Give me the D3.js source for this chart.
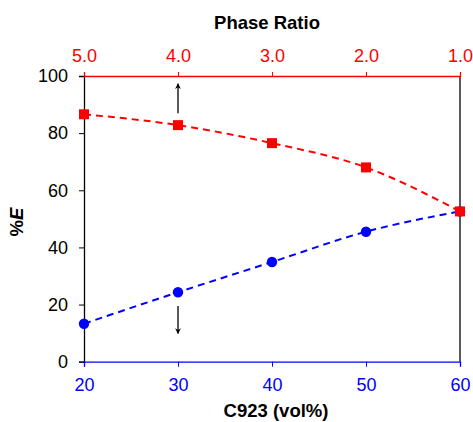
<!DOCTYPE html>
<html>
<head>
<meta charset="utf-8">
<script src="https://cdn.jsdelivr.net/npm/d3@7"></script>
<style>
  body { margin: 0; background: #fff; }
  svg text { font-family: "Liberation Sans", Arial, sans-serif; }
</style>
</head>
<body>
<div id="chart"></div>
<script>
const c923 = [20, 30, 40, 50, 60];
const redE = [86.6, 82.8, 76.5, 68.0, 52.6];
const blueE = [13.3, 24.3, 34.9, 45.5, 52.6];
const bottomTicks = [20, 30, 40, 50, 60];
const phaseTicks = [5.0, 4.0, 3.0, 2.0, 1.0];
const yTicks = [0, 20, 40, 60, 80, 100];

const width = 473, height = 422;
const margin = { top: 76, right: 13, bottom: 60, left: 84 };

const svg = d3.select("#chart").append("svg")
    .attr("width", width)
    .attr("height", height);

const x = d3.scaleLinear().domain([20, 60]).range([margin.left, width - margin.right]);
const xTop = d3.scaleLinear().domain([5, 1]).range([margin.left, width - margin.right]);
const y = d3.scaleLinear().domain([0, 100]).range([height - margin.bottom - 0.3, margin.top]);

// right frame line
svg.append("line")
    .attr("x1", x(60)).attr("x2", x(60))
    .attr("y1", y(0)).attr("y2", y(100))
    .attr("stroke", "#000").attr("stroke-width", 1.3);

// left axis
const yAxis = svg.append("g")
    .attr("transform", `translate(${margin.left},0)`)
    .call(d3.axisLeft(y).tickValues(yTicks).tickSize(5).tickPadding(11));
yAxis.select(".domain").attr("stroke", "#000").attr("stroke-width", 1.3);
yAxis.selectAll(".tick line").attr("stroke", "#000");
yAxis.selectAll("text").attr("font-size", 18).attr("fill", "#000");

// bottom axis
const xAxis = svg.append("g")
    .attr("transform", `translate(0,${y(0)})`)
    .call(d3.axisBottom(x).tickValues(bottomTicks).tickSize(5).tickPadding(12));
xAxis.select(".domain").attr("stroke", "#0000ff").attr("stroke-width", 1.3);
xAxis.selectAll(".tick line").attr("stroke", "#0000ff");
xAxis.selectAll("text").attr("font-size", 18).attr("fill", "#0000ff");

// top axis
const topAxis = svg.append("g")
    .attr("transform", `translate(0,${y(100)})`)
    .call(d3.axisTop(xTop).tickValues(phaseTicks).tickFormat(d3.format(".1f")).tickSize(4).tickPadding(10));
topAxis.select(".domain").attr("stroke", "#ff0000").attr("stroke-width", 1.3);
topAxis.selectAll(".tick line").attr("stroke", "#ff0000");
topAxis.selectAll("text").attr("font-size", 18).attr("fill", "#ff0000");

// lines
const line = d3.line().curve(d3.curveMonotoneX);
svg.append("path")
    .attr("d", line(c923.map((d, i) => [x(d), y(redE[i])])))
    .attr("fill", "none").attr("stroke", "#ff0000")
    .attr("stroke-width", 2).attr("stroke-dasharray", "7,5");
svg.append("path")
    .attr("d", line(c923.map((d, i) => [x(d), y(blueE[i])])))
    .attr("fill", "none").attr("stroke", "#0000ff")
    .attr("stroke-width", 2).attr("stroke-dasharray", "7,5");

// markers
svg.selectAll(".blue").data(c923).enter().append("circle")
    .attr("cx", d => x(d))
    .attr("cy", (d, i) => y(blueE[i]))
    .attr("r", 5.2)
    .attr("fill", "#0000ff");
svg.selectAll(".red").data(c923).enter().append("rect")
    .attr("x", d => x(d) - 5)
    .attr("y", (d, i) => y(redE[i]) - 5)
    .attr("width", 10).attr("height", 10)
    .attr("fill", "#ff0000");

// arrows
const defs = svg.append("defs");
defs.append("marker")
    .attr("id", "arrow")
    .attr("viewBox", "0 0 10 10")
    .attr("refX", 9).attr("refY", 5)
    .attr("markerWidth", 6).attr("markerHeight", 4.5)
    .attr("orient", "auto")
    .append("path").attr("d", "M0,0L10,5L0,10L3,5Z").attr("fill", "#000");
svg.append("line")
    .attr("x1", x(30)).attr("x2", x(30))
    .attr("y1", y(87)).attr("y2", y(97.3))
    .attr("stroke", "#000").attr("stroke-width", 1.3)
    .attr("marker-end", "url(#arrow)");
svg.append("line")
    .attr("x1", x(30)).attr("x2", x(30))
    .attr("y1", y(19.5)).attr("y2", y(9.9))
    .attr("stroke", "#000").attr("stroke-width", 1.3)
    .attr("marker-end", "url(#arrow)");

// titles
svg.append("text")
    .attr("x", 267).attr("y", 28.5)
    .attr("text-anchor", "middle")
    .attr("font-size", 18.5).attr("font-weight", "bold")
    .text("Phase Ratio");
svg.append("text")
    .attr("x", 276).attr("y", 417)
    .attr("text-anchor", "middle")
    .attr("font-size", 18.5).attr("font-weight", "bold")
    .text("C923 (vol%)");
const yl = svg.append("text")
    .attr("transform", "translate(23,222) rotate(-90)")
    .attr("text-anchor", "middle")
    .attr("font-size", 18.5).attr("font-weight", "bold");
yl.append("tspan").text("%");
yl.append("tspan").attr("font-style", "italic").text("E");
</script>
</body>
</html>
